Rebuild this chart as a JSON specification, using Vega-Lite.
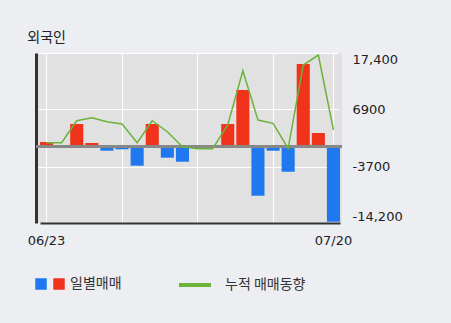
{
  "$schema": "https://vega.github.io/schema/vega-lite/v6.json",
  "width": 306,
  "height": 170,
  "autosize": {"type": "none"},
  "padding": {"left": 36, "top": 53, "right": 109, "bottom": 100},
  "background": "#eceef2",
  "title": {"text": "외국인", "anchor": "start", "fontSize": 14, "font": "Noto Sans CJK KR", "fontWeight": "normal", "color": "#222222", "offset": 7},
  "config": {
    "view": {"fill": "#e1e1e1", "stroke": null},
    "axis": {"labelFont": "DejaVu Sans", "labelFontSize": 13, "labelColor": "#222222", "ticks": false, "title": null}
  },
  "data": {"values": [
    {"date": "06/23", "value": 855, "cum": 725, "sign": "매수"},
    {"date": "06/24", "value": 0, "cum": 725, "sign": "매수"},
    {"date": "06/25", "value": 4200, "cum": 4814, "sign": "매수"},
    {"date": "06/26", "value": 670, "cum": 5372, "sign": "매수"},
    {"date": "06/29", "value": -760, "cum": 4628, "sign": "매도"},
    {"date": "06/30", "value": -500, "cum": 4201, "sign": "매도"},
    {"date": "07/01", "value": -3550, "cum": 725, "sign": "매도"},
    {"date": "07/02", "value": 4200, "cum": 4814, "sign": "매수"},
    {"date": "07/03", "value": -2060, "cum": 2770, "sign": "매도"},
    {"date": "07/06", "value": -2810, "cum": -20, "sign": "매도"},
    {"date": "07/07", "value": -300, "cum": -390, "sign": "매도"},
    {"date": "07/08", "value": 0, "cum": -390, "sign": "매수"},
    {"date": "07/09", "value": 4200, "cum": 4015, "sign": "매수"},
    {"date": "07/10", "value": 10520, "cum": 14109, "sign": "매수"},
    {"date": "07/13", "value": -9130, "cum": 4945, "sign": "매도"},
    {"date": "07/14", "value": -760, "cum": 4331, "sign": "매도"},
    {"date": "07/15", "value": -4670, "cum": -316, "sign": "매도"},
    {"date": "07/16", "value": 15350, "cum": 15168, "sign": "매수"},
    {"date": "07/17", "value": 2530, "cum": 17027, "sign": "매수"},
    {"date": "07/20", "value": -13960, "cum": 3086, "sign": "매도"}
  ]},
  "encoding": {
    "x": {
      "field": "date", "type": "ordinal", "sort": null,
      "scale": {"type": "band", "range": [4, 304], "paddingInner": 0.1333, "paddingOuter": 0},
      "axis": {
        "values": ["06/23", "06/30", "07/07", "07/14", "07/20"],
        "bandPosition": 0.5,
        "labelExpr": "datum.label == '06/23' || datum.label == '07/20' ? datum.label : ''",
        "labelAngle": 0, "labelPadding": 11, "labelDx": 4,
        "grid": true, "gridColor": "#ffffff", "gridWidth": 1, "gridOpacity": 1,
        "domainColor": "#333333", "domainWidth": 2
      }
    }
  },
  "layer": [
    {
      "mark": {"type": "bar"},
      "encoding": {
        "y": {
          "field": "value", "type": "quantitative",
          "scale": {"domain": [-14200, 17400], "nice": false, "zero": false},
          "axis": {
            "orient": "right", "values": [-14200, -3700, 6900, 17400],
            "labelExpr": "datum.value == 17400 ? '17,400' : datum.value == 6900 ? '6900' : datum.value == -3700 ? '-3700' : '-14,200'",
            "labelFlush": true, "labelPadding": 10, "domain": false,
            "grid": true, "gridColor": "#ffffff", "gridWidth": 1, "gridOpacity": 1
          }
        },
        "color": {
          "field": "sign", "type": "nominal",
          "scale": {"domain": ["매도", "매수"], "range": ["#1f78ee", "#f2331c"]},
          "legend": {
            "orient": "none", "legendX": -2, "legendY": 224, "direction": "horizontal", "title": null,
            "symbolType": "square", "symbolSize": 132, "symbolStrokeWidth": 0,
            "labelExpr": "datum.value == '매수' ? ' 일별매매' : ''",
            "labelOffset": 4, "columnPadding": 0,
            "labelFont": "Noto Sans CJK KR", "labelFontSize": 14, "labelColor": "#333333"
          }
        }
      }
    },
    {
      "mark": {"type": "rule", "color": "#888888", "strokeWidth": 2},
      "encoding": {
        "x": null,
        "y": {"datum": 0, "type": "quantitative", "scale": {"domain": [-14200, 17400], "nice": false, "zero": false}, "axis": null}
      }
    },
    {
      "mark": {"type": "line", "strokeWidth": 1.5, "interpolate": "linear"},
      "encoding": {
        "y": {
          "field": "cum", "type": "quantitative",
          "scale": {"domain": [-14200, 17400], "nice": false, "zero": false},
          "axis": {"orient": "left", "labels": false, "grid": false, "domainColor": "#333333", "domainWidth": 3}
        },
        "stroke": {
          "datum": "누적 매매동향",
          "scale": {"range": ["#6cb33a"]},
          "legend": {
            "orient": "none", "legendX": 141, "legendY": 214, "title": null,
            "symbolType": "stroke", "symbolSize": 1024, "symbolStrokeWidth": 4, "symbolStrokeColor": "#6cbf2e",
            "labelOffset": 12,
            "labelFont": "Noto Sans CJK KR", "labelFontSize": 14, "labelColor": "#333333"
          }
        }
      }
    }
  ],
  "resolve": {"scale": {"y": "independent"}}
}
